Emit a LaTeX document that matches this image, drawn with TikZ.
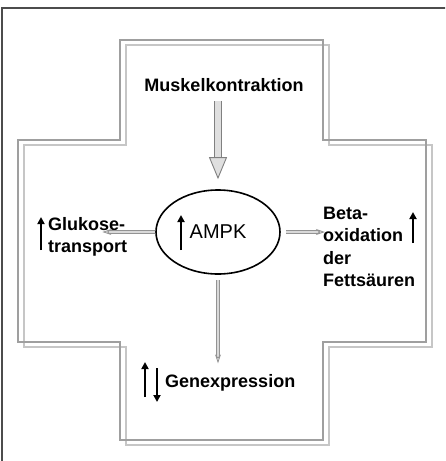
\documentclass[tikz,border=0pt]{standalone}
\usepackage{fontspec}
\setmainfont{Liberation Sans}
\usetikzlibrary{arrows.meta,calc,positioning,shapes.geometric}

\begin{document}
\begin{tikzpicture}[x=1pt, y=-1pt,
  lbl/.style={font=\bfseries\fontsize{18}{22.5}\selectfont, align=left, inner sep=0pt},
  fat/.style={draw=gray, line width=0.9pt, double=gray!25, double distance=6pt,
    -{Triangle[fill=gray!25, length=22pt, width=18pt]}},
  thin/.style={draw=gray!85, line width=0.8pt, double=gray!30, double distance=1.6pt,
    -{Stealth[open, fill=gray!20, length=9pt, width=6pt]}},
  hoch/.style={line width=2.6pt, -{Triangle[length=7pt, width=7pt]}}]
\useasboundingbox (0,0) rectangle (445,461);
\clip (0,0) rectangle (445,461);
\draw[gray!60!black, line width=2pt] (2,8) rectangle (460,480);
\draw[gray!45, line width=1.3pt, shift={(6,5)}] (120,40) -- (323,40) -- (323,140) -- (426,140) -- (426,342) -- (323,342)
  -- (323,440) -- (120,440) -- (120,342) -- (18,342) -- (18,140) -- (120,140) -- cycle;
\draw[gray!75, line width=1.3pt] (120,40) -- (323,40) -- (323,140) -- (426,140) -- (426,342) -- (323,342)
  -- (323,440) -- (120,440) -- (120,342) -- (18,342) -- (18,140) -- (120,140) -- cycle;

\node[ellipse, draw, line width=1.6pt, minimum width=124, minimum height=84, inner sep=0pt,
  font=\fontsize{20}{24}\selectfont] (ampk) at (218,232) {AMPK};
\node[lbl] (kontr) at (224,85) {Muskelkontraktion};
\node[lbl, anchor=west] (glu) at (48,237) {Glukose-\\transport};
\node[lbl, anchor=west] (beta) at (323,247) {Beta-\\oxidation\\der\\Fettsäuren};
\node[lbl, anchor=west] (gen) at (165,383) {Genexpression};

\draw[fat, shorten <=9pt, shorten >=10pt] (kontr.south -| ampk) -- (ampk.north);
\draw[thin, shorten <=5pt, shorten >=11pt] (ampk.south) -- (ampk.south |- gen.north);
\draw[thin, shorten >=-25pt] (ampk.west) -- (ampk.west -| glu.east);
\draw[thin, shorten <=5pt, shorten >=-2pt] (ampk.east) -- (ampk.east -| beta.west);

\draw[hoch] ($(ampk)+(-37,18)$) -- ++(0,-35);
\draw[hoch] ($(glu.west)+(-7,13)$) -- ++(0,-33);
\draw[hoch] ($(beta.west)+(90,-4)$) -- ++(0,-31);
\draw[hoch] ($(gen.west)+(-20,14)$) -- ++(0,-35);
\draw[hoch] ($(gen.west)+(-8,-15)$) -- ++(0,34);
\end{tikzpicture}
\end{document}
